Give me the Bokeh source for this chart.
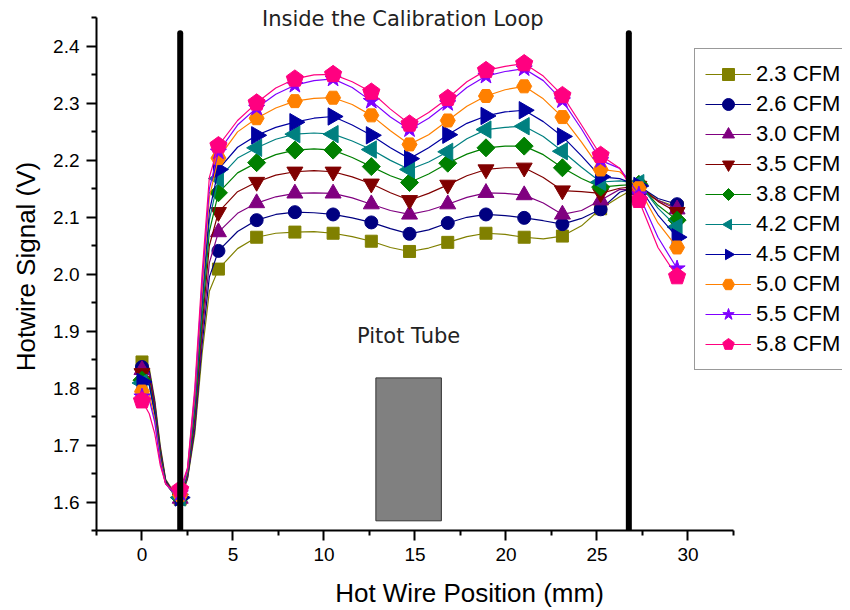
import math
from bokeh.plotting import figure
from bokeh.models import FixedTicker, PrintfTickFormatter, Label
from bokeh.embed import file_html
from bokeh.resources import INLINE

# ---------------- data ----------------
LINE_X = [0, 0.4, 0.7, 1.0, 1.3, 1.7, 2.1, 2.5, 2.9, 3.3, 3.7, 4.2, 5.25, 6.3, 7.35, 8.4,
          9.45, 10.5, 11.55, 12.6, 13.65, 14.7, 15.75, 16.8, 17.85, 18.9, 19.95, 21.0,
          22.05, 23.1, 24.15, 25.2, 26.25, 27.3, 28.35, 29.4]
MARKER_X = [0, 2.1, 4.2, 6.3, 8.4, 10.5, 12.6, 14.7, 16.8, 18.9, 21.0, 23.1, 25.2, 27.3, 29.4]

LABELS = ["2.3 CFM", "2.6 CFM", "3.0 CFM", "3.5 CFM", "3.8 CFM",
          "4.2 CFM", "4.5 CFM", "5.0 CFM", "5.5 CFM", "5.8 CFM"]

cfm_2_3 = [1.846, 1.835, 1.780, 1.700, 1.640, 1.620, 1.605, 1.640, 1.720, 1.860, 1.970, 2.009,
           2.045, 2.065, 2.072, 2.074, 2.075, 2.072, 2.066, 2.058, 2.047, 2.040, 2.046, 2.056,
           2.066, 2.072, 2.070, 2.065, 2.062, 2.067, 2.085, 2.115, 2.136, 2.155, 2.130, 2.118]
cfm_2_6 = [1.837, 1.830, 1.775, 1.695, 1.638, 1.618, 1.607, 1.642, 1.729, 1.876, 1.995, 2.041,
           2.075, 2.095, 2.105, 2.109, 2.108, 2.105, 2.099, 2.091, 2.080, 2.071, 2.078, 2.090,
           2.100, 2.105, 2.103, 2.099, 2.094, 2.088, 2.098, 2.114, 2.144, 2.155, 2.133, 2.123]
cfm_3_0 = [1.832, 1.826, 1.770, 1.690, 1.636, 1.617, 1.606, 1.644, 1.738, 1.891, 2.020, 2.074,
           2.107, 2.125, 2.136, 2.142, 2.143, 2.142, 2.134, 2.123, 2.112, 2.105, 2.112, 2.123,
           2.135, 2.143, 2.142, 2.139, 2.125, 2.105, 2.112, 2.130, 2.149, 2.148, 2.130, 2.114]
cfm_3_5 = [1.826, 1.820, 1.765, 1.690, 1.635, 1.617, 1.606, 1.647, 1.747, 1.907, 2.050, 2.109,
           2.145, 2.162, 2.174, 2.180, 2.182, 2.180, 2.171, 2.159, 2.143, 2.130, 2.142, 2.157,
           2.173, 2.184, 2.187, 2.187, 2.170, 2.147, 2.145, 2.142, 2.151, 2.155, 2.128, 2.109]
cfm_3_8 = [1.814, 1.810, 1.760, 1.685, 1.634, 1.616, 1.607, 1.649, 1.756, 1.922, 2.075, 2.143,
           2.178, 2.196, 2.210, 2.218, 2.220, 2.218, 2.205, 2.189, 2.173, 2.161, 2.176, 2.195,
           2.211, 2.222, 2.225, 2.225, 2.210, 2.187, 2.168, 2.153, 2.156, 2.158, 2.121, 2.095]
cfm_4_2 = [1.809, 1.805, 1.755, 1.680, 1.633, 1.616, 1.608, 1.651, 1.764, 1.938, 2.095, 2.168,
           2.204, 2.222, 2.237, 2.246, 2.248, 2.246, 2.234, 2.219, 2.200, 2.184, 2.197, 2.215,
           2.238, 2.254, 2.258, 2.260, 2.242, 2.216, 2.188, 2.162, 2.164, 2.160, 2.116, 2.083]
cfm_4_5 = [1.811, 1.806, 1.755, 1.680, 1.633, 1.616, 1.608, 1.653, 1.773, 1.953, 2.110, 2.184,
           2.223, 2.244, 2.258, 2.267, 2.274, 2.277, 2.262, 2.244, 2.222, 2.203, 2.222, 2.245,
           2.265, 2.278, 2.285, 2.288, 2.268, 2.242, 2.208, 2.171, 2.168, 2.155, 2.104, 2.065]
cfm_5_0 = [1.794, 1.790, 1.745, 1.675, 1.632, 1.617, 1.612, 1.655, 1.782, 1.969, 2.135, 2.204,
           2.250, 2.274, 2.292, 2.304, 2.309, 2.310, 2.298, 2.279, 2.252, 2.228, 2.245, 2.270,
           2.295, 2.313, 2.324, 2.330, 2.308, 2.276, 2.232, 2.184, 2.180, 2.151, 2.090, 2.047]
cfm_5_5 = [1.785, 1.780, 1.740, 1.670, 1.632, 1.618, 1.615, 1.658, 1.791, 1.984, 2.150, 2.215,
           2.262, 2.292, 2.316, 2.332, 2.340, 2.343, 2.328, 2.304, 2.276, 2.254, 2.274, 2.300,
           2.328, 2.348, 2.356, 2.361, 2.340, 2.305, 2.255, 2.200, 2.186, 2.140, 2.065, 2.010]
cfm_5_8 = [1.778, 1.755, 1.720, 1.665, 1.632, 1.620, 1.622, 1.660, 1.800, 2.000, 2.170, 2.226,
           2.270, 2.301, 2.327, 2.343, 2.350, 2.351, 2.338, 2.320, 2.290, 2.264, 2.284, 2.309,
           2.338, 2.358, 2.365, 2.370, 2.348, 2.314, 2.262, 2.209, 2.186, 2.130, 2.047, 1.996]

SERIES = [cfm_2_3, cfm_2_6, cfm_3_0, cfm_3_5, cfm_3_8, cfm_4_2, cfm_4_5, cfm_5_0, cfm_5_5, cfm_5_8]

X_TICKS = [0, 5, 10, 15, 20, 25, 30]
X_MINOR = [-2.5, 2.5, 7.5, 12.5, 17.5, 22.5, 27.5, 32.5]
X_AXIS_BOUNDS = (-2.5, 32.5)
Y_TICKS = [1.6, 1.7, 1.8, 1.9, 2.0, 2.1, 2.2, 2.3, 2.4]
Y_MINOR = [1.55, 1.65, 1.75, 1.85, 1.95, 2.05, 2.15, 2.25, 2.35, 2.45]
Y_AXIS_BOUNDS = (1.55, 2.45)

VLINE_X = [2.1, 26.75]
VLINE_BOTTOM = 1.55
VLINE_TOP = 2.423

PITOT_LEFT, PITOT_RIGHT = 12.85, 16.45
PITOT_BOTTOM, PITOT_TOP = 1.567, 1.818

# ---------------- styles ----------------
COLORS = ["#808000", "#000080", "#800080", "#800000", "#008000",
          "#008080", "#0000A0", "#FF8000", "#8000FF", "#FF0080"]
# (kind, marker/n, size-or-radius, angle)
MARKERS = [("scatter", "square", 12, 0.0), ("scatter", "circle", 13, 0.0),
           ("scatter", "triangle", 16, 0.0), ("scatter", "inverted_triangle", 16, 0.0),
           ("ngon", 4, 9, 0.0), ("ngon", 3, 10, math.pi / 2), ("ngon", 3, 10, -math.pi / 2),
           ("scatter", "hex", 15, 0.0), ("scatter", "star", 17, 0.0),
           ("ngon", 5, 9, 0.0)]

p = figure(width=842, height=610, output_backend="svg", toolbar_location=None,
           x_range=(-2.5, 38.49), y_range=(1.55, 2.4772),
           min_border_left=96, min_border_right=0, min_border_top=2, min_border_bottom=79)
p.outline_line_color = None
p.xgrid.visible = False
p.ygrid.visible = False
p.background_fill_color = "white"
p.border_fill_color = "white"

idx = [LINE_X.index(m) for m in MARKER_X]

for vals, lab, col, (kind, mk, sz, ang) in zip(SERIES, LABELS, COLORS, MARKERS):
    p.line(LINE_X, vals, line_color=col, line_width=1.2, legend_label=lab)
    my = [vals[i] for i in idx]
    if kind == "ngon":
        p.ngon(x=MARKER_X, y=my, radius=sz, radius_units="screen", n=mk, angle=ang,
               fill_color=col, line_color=col, legend_label=lab)
    else:
        p.scatter(MARKER_X, my, marker=mk, size=sz,
                  fill_color=col, line_color=col, legend_label=lab)

p.quad(left=[PITOT_LEFT], right=[PITOT_RIGHT], bottom=[PITOT_BOTTOM], top=[PITOT_TOP],
       fill_color="#808080", line_color="#333333", line_width=1)

p.segment(x0=VLINE_X, y0=[VLINE_BOTTOM] * 2, x1=VLINE_X, y1=[VLINE_TOP] * 2,
          line_color="black", line_width=6, line_cap="round")

p.add_layout(Label(x=14.33, y=2.4474, text="Inside the Calibration Loop",
                   text_align="center", text_baseline="middle",
                   text_font="DejaVu Sans", text_font_size="21px", text_color="#222222"))
p.add_layout(Label(x=14.65, y=1.891, text="Pitot Tube",
                   text_align="center", text_baseline="middle",
                   text_font="DejaVu Sans", text_font_size="21px", text_color="#222222"))

# axes
for ax in (p.xaxis[0], p.yaxis[0]):
    ax.axis_line_width = 2
    ax.axis_line_color = "black"
    ax.major_tick_line_width = 2
    ax.minor_tick_line_width = 2
    ax.major_tick_line_color = "black"
    ax.minor_tick_line_color = "black"
    ax.major_tick_out = 10
    ax.major_tick_in = 0
    ax.minor_tick_out = 5
    ax.minor_tick_in = 0
    ax.major_label_text_font = "Liberation Sans"
    ax.major_label_text_font_size = "19px"
    ax.major_label_text_color = "black"
    ax.axis_label_text_font = "Liberation Sans"
    ax.axis_label_text_font_size = "26px"
    ax.axis_label_text_font_style = "normal"
    ax.axis_label_text_color = "black"
    ax.major_label_standoff = 7

p.xaxis.ticker = FixedTicker(ticks=X_TICKS, minor_ticks=X_MINOR)
p.yaxis.ticker = FixedTicker(ticks=Y_TICKS, minor_ticks=Y_MINOR)
p.xaxis.bounds = X_AXIS_BOUNDS
p.yaxis.bounds = Y_AXIS_BOUNDS
p.yaxis.formatter = PrintfTickFormatter(format="%.1f")
p.xaxis.axis_label = "Hot Wire Position (mm)"
p.yaxis.axis_label = "Hotwire Signal (V)"
p.xaxis.axis_label_standoff = 14
p.yaxis.axis_label_standoff = 9

lg = p.legend[0]
lg.location = (598, 160)
lg.glyph_width = 46
lg.glyph_height = 30
lg.label_height = 30
lg.spacing = 0
lg.padding = 10
lg.margin = 0
lg.label_standoff = 5
lg.border_line_color = "#333333"
lg.border_line_width = 1.5
lg.label_text_font = "Liberation Sans"
lg.label_text_font_size = "22px"
lg.label_text_color = "black"
lg.background_fill_alpha = 1.0

open("out.html", "w").write(file_html(p, INLINE))
